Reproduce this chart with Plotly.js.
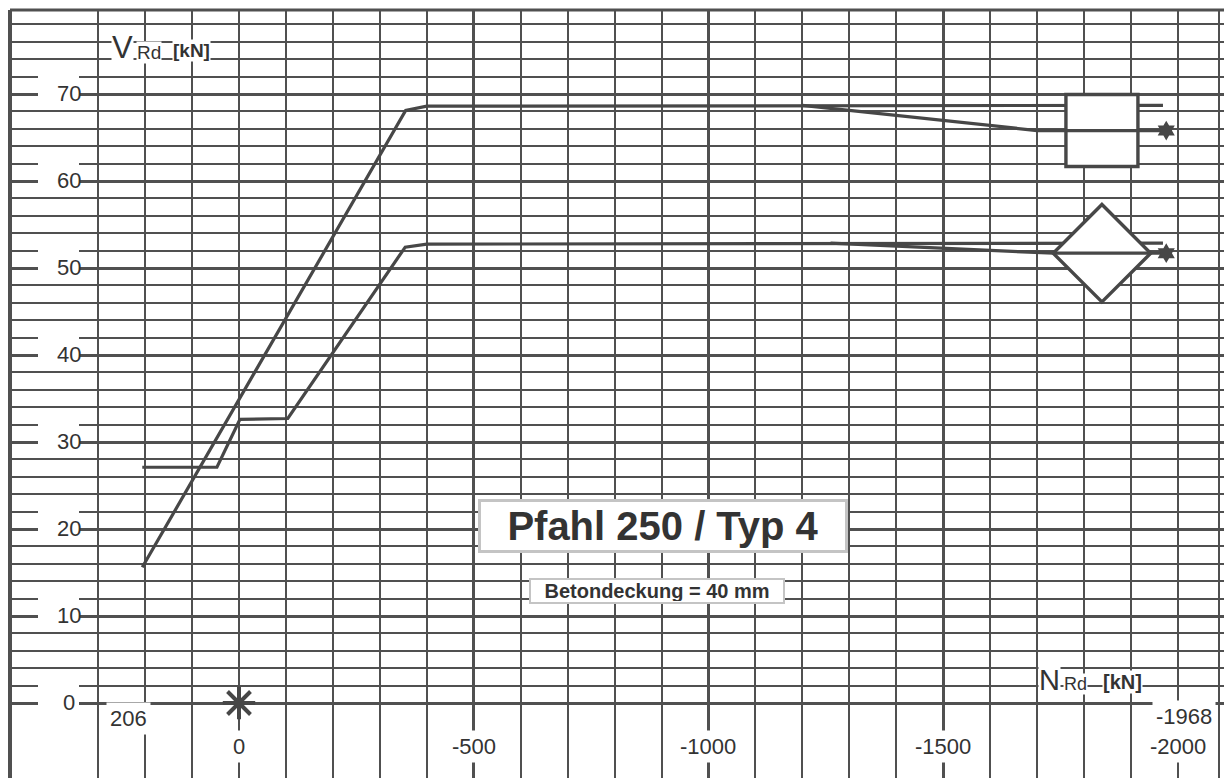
<!DOCTYPE html>
<html>
<head>
<meta charset="utf-8">
<script src="https://cdn.plot.ly/plotly-3.0.1.min.js"></script>
<style>html,body{margin:0;padding:0;background:#fff;}#chart{width:1224px;height:778px;}</style>
</head>
<body>
<div id="chart"></div>
<script>
// ---------- data ----------
const upperN = [206, -355, -400, -1968];
const upperV = [15.6, 68.1, 68.6, 68.7];

const lowerN = [206, 47, -2, -104, -354, -400, -1968];
const lowerV = [27.1, 27.1, 32.6, 32.7, 52.4, 52.75, 52.85];

const upperBranchN = [-1200, -1700, -1975];
const upperBranchV = [68.7, 65.8, 65.8];

const lowerBranchN = [-1260, -1735, -1975];
const lowerBranchV = [52.85, 51.7, 51.7];

const markerN = [-1838, -1838];
const markerV = [65.8, 51.7];
const markerSymbols = ['square', 'diamond'];

const originN = [0];
const originV = [0];

const yTickVals = [0, 10, 20, 30, 40, 50, 60, 70];
const yTickLabels = ['0', '10', '20', '30', '40', '50', '60', '70'];

const xTickVals = [206, 0, -500, -1000, -1500, -2000, -1968];
const xTickLabels = ['206', '0', '-500', '-1000', '-1500', '-2000', '-1968'];

const titleText = 'Pfahl 250 / Typ 4';
const subtitleText = 'Betondeckung = 40 mm';

// ---------- layout geometry ----------
const W = 1224, H = 778;
const ML = 10, MT = 10;
const X0 = 487.75, X1 = -2098;   // N at plot left / right edge
const Y0 = -8.62, Y1 = 79.655;   // V at plot bottom / top edge
const PW = W - ML, PH = H - MT;
const pxToN = px => X0 + (px - ML) / PW * (X1 - X0);
const pxToV = py => Y1 - (py - MT) / PH * (Y1 - Y0);

const INK = '#474747';
const GRID = '#505050';
const FONT = 'Liberation Sans, Arial, Helvetica, sans-serif';

// grid values
const majorXGrid = [300, 0, -500, -1000, -1500, -2000];
const minorXGrid = [];
for (let n = 200; n >= -1900; n -= 100) if (n % 500 !== 0) minorXGrid.push(n);
const majorYGrid = yTickVals.slice();
const minorYGrid = [];
for (let v = 2; v <= 78; v += 2) if (v % 10 !== 0) minorYGrid.push(v);

// ---------- traces ----------
const lineStyle = {color: INK, width: 3.2};
const endOnly = (arr, s) => arr.map((_, i) => i === arr.length - 1 ? s : 0);
const traces = [
  {x: upperN, y: upperV, mode: 'lines', line: lineStyle, hoverinfo: 'skip'},
  {x: lowerN, y: lowerV, mode: 'lines', line: lineStyle, hoverinfo: 'skip'},
  {x: markerN, y: markerV, mode: 'markers', hoverinfo: 'skip',
   marker: {symbol: markerSymbols, size: [72, 75], color: '#ffffff', opacity: 1, line: {color: INK, width: 3.4}}},
  {x: upperBranchN, y: upperBranchV, mode: 'lines+markers', line: lineStyle, hoverinfo: 'skip',
   marker: {symbol: 'hexagram', color: INK, opacity: 1, size: endOnly(upperBranchN, 15), line: {width: 0}}},
  {x: lowerBranchN, y: lowerBranchV, mode: 'lines+markers', line: lineStyle, hoverinfo: 'skip',
   marker: {symbol: 'hexagram', color: INK, opacity: 1, size: endOnly(lowerBranchN, 15), line: {width: 0}}},
  {x: originN, y: originV, mode: 'markers', hoverinfo: 'skip',
   marker: {symbol: 'asterisk-open', size: 27, color: INK, opacity: 1, line: {color: INK, width: 4}}}
];

// ---------- annotations ----------
const annotations = [];
yTickVals.forEach((v, i) => {
  annotations.push({x: pxToN(69), y: v, xref: 'x', yref: 'y', text: yTickLabels[i], showarrow: false,
    xanchor: 'center', yanchor: 'middle', yshift: 1, bgcolor: 'rgba(255,255,255,0)',
    font: {family: FONT, size: 22, color: '#333'}});
});
const xLabelRow = {'206': 718, '-1968': 716};
const xLabelShift = {'206': -14, '-1968': 21};
xTickVals.forEach((n, i) => {
  const lab = xTickLabels[i];
  annotations.push({x: n, y: pxToV(xLabelRow[lab] || 746), xref: 'x', yref: 'y', text: lab, showarrow: false,
    xanchor: 'center', yanchor: 'middle', xshift: xLabelShift[lab] || 0,
    bgcolor: '#ffffff', borderpad: 3,
    font: {family: FONT, size: 22, color: '#333'}});
});
// axis titles
const axisParts = [
  {t: 'V', px: 122, py: 47, s: 31},
  {t: 'Rd', px: 149, py: 52, s: 19},
  {t: '<b>[kN]</b>', px: 191, py: 50, s: 19},
  {t: 'N', px: 1049, py: 680, s: 29},
  {t: 'Rd', px: 1075, py: 684, s: 18},
  {t: '<b>[kN]</b>', px: 1122, py: 682, s: 20}
];
axisParts.forEach(p => {
  annotations.push({x: pxToN(p.px), y: pxToV(p.py), xref: 'x', yref: 'y', text: p.t, showarrow: false,
    xanchor: 'center', yanchor: 'middle', bgcolor: '#ffffff', borderpad: 0,
    font: {family: FONT, size: p.s, color: '#333'}});
});
// title boxes
annotations.push({x: pxToN(663), y: pxToV(526), xref: 'x', yref: 'y', text: '<b>' + titleText + '</b>',
  showarrow: false, xanchor: 'center', yanchor: 'middle', width: 360, height: 44,
  bgcolor: '#ffffff', bordercolor: '#c4c4c4', borderwidth: 3, borderpad: 2,
  font: {family: FONT, size: 40, color: '#333'}});
annotations.push({x: pxToN(657), y: pxToV(591), xref: 'x', yref: 'y', text: '<b>' + subtitleText + '</b>',
  showarrow: false, xanchor: 'center', yanchor: 'middle', width: 250, height: 20,
  bgcolor: '#ffffff', bordercolor: '#c4c4c4', borderwidth: 2, borderpad: 1,
  font: {family: FONT, size: 20, color: '#333'}});

// ---------- shapes ----------
const shapes = [];
yTickVals.forEach(v => {
  shapes.push({type: 'rect', xref: 'x', yref: 'y', x0: pxToN(38), x1: pxToN(79), y0: v - 1, y1: v + 3,
    fillcolor: '#ffffff', line: {width: 0}, layer: 'between'});
});
shapes.push({type: 'line', xref: 'paper', yref: 'paper', x0: 0, x1: 0, y0: 0, y1: 1, line: {color: GRID, width: 4}});
shapes.push({type: 'line', xref: 'paper', yref: 'paper', x0: 0, x1: 1, y0: 1, y1: 1, line: {color: GRID, width: 3}});
shapes.push({type: 'line', xref: 'paper', yref: 'paper', x0: (1219 - ML) / PW, x1: (1219 - ML) / PW, y0: 0, y1: 1, line: {color: GRID, width: 2}});

const layout = {
  width: W, height: H,
  margin: {l: ML, r: 0, t: MT, b: 0, pad: 0},
  paper_bgcolor: '#ffffff', plot_bgcolor: '#ffffff',
  showlegend: false,
  xaxis: {range: [X0, X1], tickmode: 'array', tickvals: majorXGrid, showticklabels: false, ticks: '',
    showgrid: true, gridcolor: GRID, gridwidth: 2.6, zeroline: false, showline: false, fixedrange: true,
    minor: {tickmode: 'array', tickvals: minorXGrid, showgrid: true, gridcolor: GRID, gridwidth: 2, ticks: ''}},
  yaxis: {range: [Y0, Y1], tickmode: 'array', tickvals: majorYGrid, showticklabels: false, ticks: '',
    showgrid: true, gridcolor: GRID, gridwidth: 3, zeroline: false, showline: false, fixedrange: true,
    minor: {tickmode: 'array', tickvals: minorYGrid, showgrid: true, gridcolor: GRID, gridwidth: 2, ticks: ''}},
  annotations: annotations,
  shapes: shapes
};

Plotly.newPlot('chart', traces, layout, {staticPlot: true, displayModeBar: false});
</script>
</body>
</html>
